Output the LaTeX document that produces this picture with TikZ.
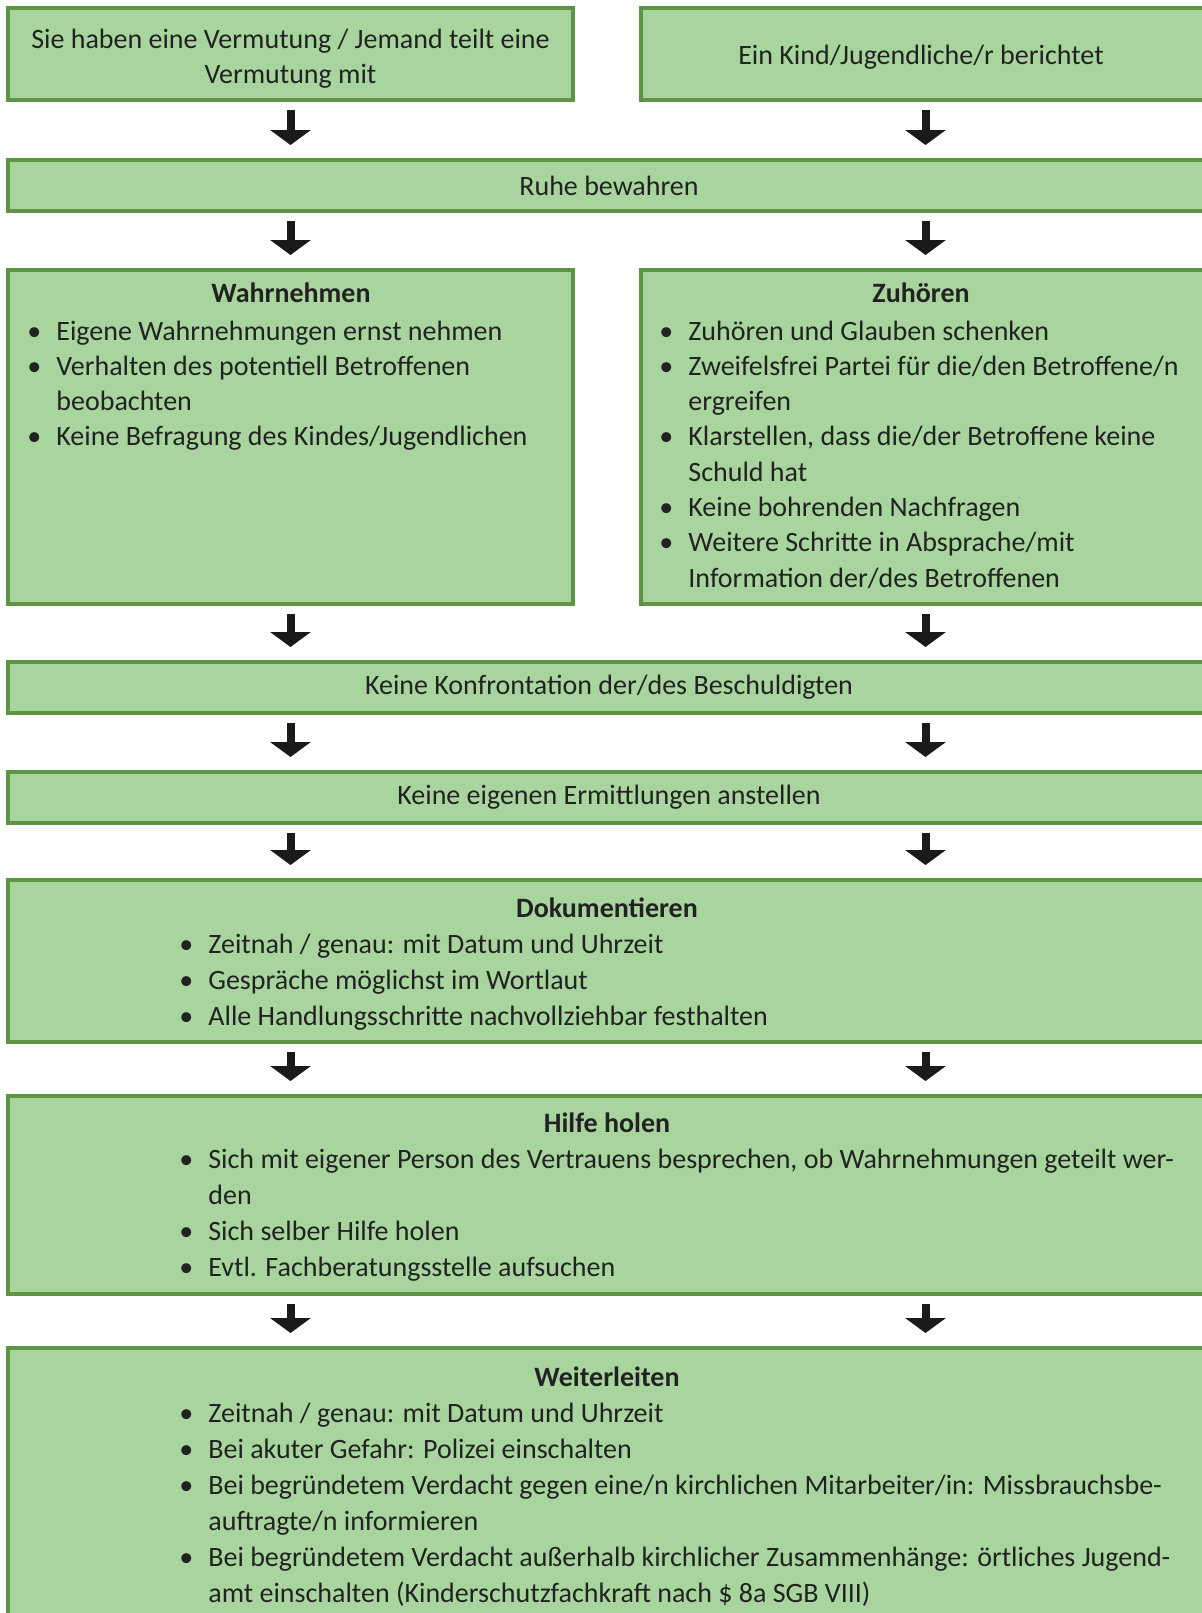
\documentclass[tikz,border=0pt]{standalone}
\usepackage{fontspec}
\setmainfont{Carlito}
\usetikzlibrary{arrows.meta}
\definecolor{boxfill}{RGB}{168,213,158}
\definecolor{boxline}{RGB}{95,148,68}
\definecolor{txt}{RGB}{34,34,34}
\definecolor{arrowc}{RGB}{26,26,26}
\newcommand\bpt[1]{\leavevmode\llap{\makebox[11pt][l]{\makebox[0pt][c]{•}}}#1}
\tikzset{
  box/.style={draw=boxline, line width=2pt, fill=boxfill, inner sep=0pt,
    align=center, text=txt, font=\fontsize{14pt}{17.65pt}\selectfont},
  halfbox/.style={box, minimum width=282.5pt},
  halfboxr/.style={box, minimum width=284.5pt},
  fullbox/.style={box, minimum width=601pt},
  boxtext/.style={inner sep=0pt, align=center, text=txt,
    font=\fontsize{14pt}{17.65pt}\selectfont},
  titletext/.style={anchor=base, inner sep=0pt, text=txt,
    font=\fontsize{14pt}{17.65pt}\selectfont\bfseries},
  listtext/.style={anchor=base west, inner sep=0pt, text=txt,
    font=\fontsize{14pt}{17.65pt}\selectfont},
  listtextb/.style={listtext, font=\fontsize{14pt}{18pt}\selectfont},
  bigarrow/.style={draw=arrowc, line width=4pt,
    -{Triangle[width=20pt,length=7.5pt]}, shorten <=4pt, shorten >=6.5pt}
}
\begin{document}
\begin{tikzpicture}[x=0.5pt,y=-0.5pt]
\useasboundingbox[fill=white] (0,0) rectangle (1201,1613);
% boxes
\node[halfbox, minimum height=46pt] (b1) at (290.5,54) {};
\node[halfboxr, minimum height=46pt] (b2) at (925.5,54) {};
\node[fullbox, minimum height=25.5pt] (ruhe) at (609,185.5) {Ruhe bewahren};
\node[halfbox, minimum height=167pt] (wahr) at (290.5,437) {};
\node[halfboxr, minimum height=167pt] (zuh) at (925.5,437) {};
\node[fullbox, minimum height=25.5pt] (konf) at (609,687.5) {\raisebox{-1pt}{Keine Konfrontation der/des Beschuldigten}};
\node[fullbox, minimum height=25.5pt] (ermi) at (609,797.5) {\raisebox{-1pt}{Keine eigenen Ermittlungen anstellen}};
\node[fullbox, minimum height=81pt] (doku) at (609,961) {};
\node[fullbox, minimum height=99pt] (hilfe) at (609,1195) {};
\node[fullbox, minimum height=146pt] (weiter) at (609,1494) {};
% contents
\node[boxtext, yshift=-2.5pt] (b1t) at (b1.center) {Sie haben eine Vermutung / Jemand teilt eine\\Vermutung mit};
\node[boxtext, yshift=-1.5pt] (b2t) at (921,54) {Ein Kind/Jugendliche/r berichtet};
\node[titletext] (wahrt) at (291,302) {Wahrnehmen};
\node[listtext] (wahrl) at (56,340) {\parbox[t]{300pt}{\raggedright
\bpt{Eigene Wahrnehmungen ernst nehmen}\\
\bpt{Verhalten des potentiell Betroffenen}\\
beobachten\\
\bpt{Keine Befragung des Kindes/Jugendlichen}}};
\node[titletext] (zuht) at (921,302) {Zuhören};
\node[listtext] (zuhl) at (688,340) {\parbox[t]{300pt}{\raggedright
\bpt{Zuhören und Glauben schenken}\\
\bpt{Zweifelsfrei Partei für die/den Betroffene/n}\\
ergreifen\\
\bpt{Klarstellen, dass die/der Betroffene keine}\\
Schuld hat\\
\bpt{Keine bohrenden Nachfragen}\\
\bpt{Weitere Schritte in Absprache/mit}\\
Information der/des Betroffenen}};
\node[titletext] (dokut) at (607,917) {Dokumentieren};
\node[listtextb] (dokul) at (208,953) {\parbox[t]{560pt}{\raggedright
\bpt{Zeitnah / genau: mit Datum und Uhrzeit}\\
\bpt{Gespräche möglichst im Wortlaut}\\
\bpt{Alle Handlungsschritte nachvollziehbar festhalten}}};
\node[titletext] (hilfet) at (607,1132) {Hilfe holen};
\node[listtextb] (hilfel) at (208,1168) {\parbox[t]{560pt}{\raggedright
\bpt{Sich mit eigener Person des Vertrauens besprechen, ob Wahrnehmungen geteilt wer-}\\
den\\
\bpt{Sich selber Hilfe holen}\\
\bpt{Evtl. Fachberatungsstelle aufsuchen}}};
\node[titletext] (weitert) at (607,1386) {Weiterleiten};
\node[listtextb] (weiterl) at (208,1422) {\parbox[t]{560pt}{\raggedright
\bpt{Zeitnah / genau: mit Datum und Uhrzeit}\\
\bpt{Bei akuter Gefahr: Polizei einschalten}\\
\bpt{Bei begründetem Verdacht gegen eine/n kirchlichen Mitarbeiter/in: Missbrauchsbe-}\\
auftragte/n informieren\\
\bpt{Bei begründetem Verdacht außerhalb kirchlicher Zusammenhänge: örtliches Jugend-}\\
amt einschalten (Kinderschutzfachkraft nach \$ 8a SGB VIII)}};
% arrows
\draw[bigarrow] (b1.south) -- (b1.south |- ruhe.north);
\draw[bigarrow] (b2.south) -- (b2.south |- ruhe.north);
\draw[bigarrow] (ruhe.south -| wahr.north) -- (wahr.north);
\draw[bigarrow] (ruhe.south -| zuh.north) -- (zuh.north);
\draw[bigarrow] (wahr.south) -- (wahr.south |- konf.north);
\draw[bigarrow] (zuh.south) -- (zuh.south |- konf.north);
\draw[bigarrow] (konf.south -| wahr.south) -- (ermi.north -| wahr.south);
\draw[bigarrow] (konf.south -| zuh.south) -- (ermi.north -| zuh.south);
\draw[bigarrow] (ermi.south -| wahr.south) -- (doku.north -| wahr.south);
\draw[bigarrow] (ermi.south -| zuh.south) -- (doku.north -| zuh.south);
\draw[bigarrow] (doku.south -| wahr.south) -- (hilfe.north -| wahr.south);
\draw[bigarrow] (doku.south -| zuh.south) -- (hilfe.north -| zuh.south);
\draw[bigarrow] (hilfe.south -| wahr.south) -- (weiter.north -| wahr.south);
\draw[bigarrow] (hilfe.south -| zuh.south) -- (weiter.north -| zuh.south);
\end{tikzpicture}
\end{document}
